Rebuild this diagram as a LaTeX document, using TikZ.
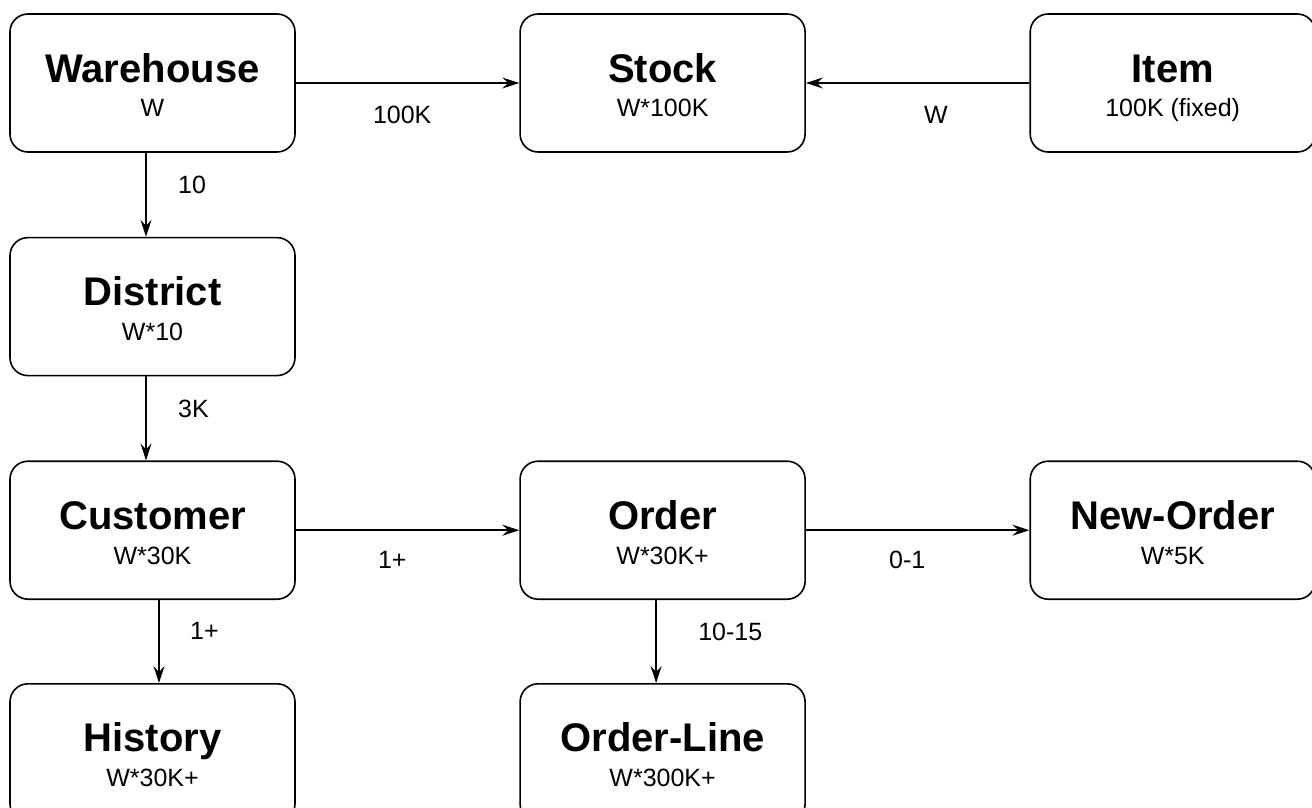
\documentclass[tikz,border=0pt]{standalone}
\usepackage{fontspec}
\setmainfont{Liberation Sans}
\usetikzlibrary{positioning,arrows.meta}

\tikzset{
  table/.style = {draw, line width=1.6pt, rounded corners=18pt, minimum width=285pt, minimum height=138pt,
                  inner sep=0pt, align=center, text height=68pt, text depth=0pt, font=\fontsize{25}{35}\selectfont},
  card/.style  = {inner sep=0pt, anchor=base west, font=\fontsize{25}{29}\selectfont},
  rel/.style   = {line width=1.5pt, -{Stealth[length=17pt, width=11pt, inset=6pt]}}
}
\newcommand{\tname}[1]{{\fontsize{40}{35}\selectfont\bfseries #1}}

\begin{document}
\begin{tikzpicture}

\useasboundingbox (0,0) rectangle (1312pt,-808pt);

% tables
\node[table] (warehouse) at (152.5pt,-83pt) {\tname{Warehouse}\\W};
\node[table, right=223.5pt of warehouse] (stock) {\tname{Stock}\\W*100K};
\node[table, right=223.5pt of stock] (item) {\tname{Item}\\100K (fixed)};
\node[table, below=84pt of warehouse] (district) {\tname{District}\\W*10};
\node[table, below=84pt of district] (customer) {\tname{Customer}\\W*30K};
\node[table, right=223.5pt of customer] (order) {\tname{Order}\\W*30K+};
\node[table, right=223.5pt of order] (neworder) {\tname{New-Order}\\W*5K};
\node[table, below=83pt of customer] (history) {\tname{History}\\W*30K+};
\node[table, below=83pt of order] (orderline) {\tname{Order-Line}\\W*300K+};

% relations
\draw[rel] (warehouse) -- (stock);
\draw[rel] (item) -- (stock);
\draw[rel] ([xshift=-6.5pt]warehouse.south) -- ([xshift=-6.5pt]district.north);
\draw[rel] ([xshift=-6.5pt]district.south) -- ([xshift=-6.5pt]customer.north);
\draw[rel] (customer) -- (order);
\draw[rel] (order) -- (neworder);
\draw[rel] ([xshift=6.5pt]customer.south) -- ([xshift=6.5pt]history.north);
\draw[rel] ([xshift=-6.5pt]order.south) -- ([xshift=-6.5pt]orderline.north);

% cardinalities
\node[card] (c-wh-st) at ([xshift=77pt, yshift=-40pt]warehouse.east) {100K};
\node[card] (c-it-st) at ([xshift=118pt, yshift=-40pt]stock.east) {W};
\node[card] (c-wh-di) at ([xshift=25.5pt, yshift=-41pt]warehouse.south) {10};
\node[card] (c-di-cu) at ([xshift=25.5pt, yshift=-41pt]district.south) {3K};
\node[card] (c-cu-or) at ([xshift=82pt, yshift=-38pt]customer.east) {1+};
\node[card] (c-or-no) at ([xshift=83pt, yshift=-38pt]order.east) {0-1};
\node[card] (c-cu-hi) at ([xshift=37.5pt, yshift=-39pt]customer.south) {1+};
\node[card] (c-or-ol) at ([xshift=35.5pt, yshift=-40pt]order.south) {10-15};

\end{tikzpicture}
\end{document}
